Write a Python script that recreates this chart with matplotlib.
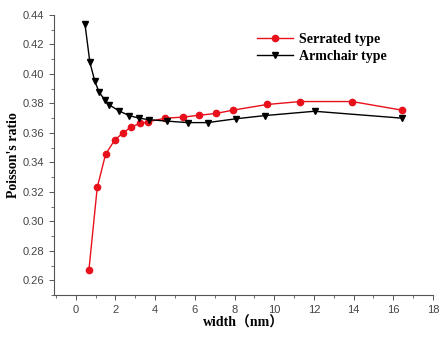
import matplotlib.pyplot as plt
from matplotlib.ticker import MultipleLocator

# serrated (red circles)
serrated_w = [0.66, 1.08, 1.50, 1.96, 2.38, 2.80, 3.24, 3.66, 4.50, 5.38, 6.22, 7.06, 7.90, 9.64, 11.32, 13.92, 16.46]
serrated_v = [0.267, 0.323, 0.3455, 0.3552, 0.360, 0.3642, 0.3664, 0.3676, 0.370, 0.3707, 0.372, 0.3732, 0.3754,
              0.3793, 0.3813, 0.3813, 0.3754]

# armchair (black triangles)
armchair_w = [0.46, 0.71, 0.96, 1.18, 1.45, 1.69, 2.17, 2.68, 3.19, 3.69, 4.62, 5.63, 6.64, 8.07, 9.55, 12.03, 16.46]
armchair_v = [0.434, 0.4078, 0.395, 0.3875, 0.3826, 0.379, 0.375, 0.3718, 0.370, 0.369, 0.368, 0.367, 0.367,
              0.3696, 0.3718, 0.3747, 0.370]

serif = ["Liberation Serif", "Noto Sans CJK SC"]

fig = plt.figure(figsize=(4.4, 3.38), dpi=100)
ax = fig.add_axes([0.1227, 0.127, 0.984 - 0.1227, 0.9556 - 0.127])

ax.plot(serrated_w, serrated_v, color="#e8101a", marker="o", markersize=4.5, linewidth=1.0, label="Serrated type")
ax.plot(armchair_w, armchair_v, color="black", marker="v", markersize=4.5, linewidth=1.0, label="Armchair type")

ax.set_xlim(-1.1, 18)
ax.set_ylim(0.25, 0.44)
ax.xaxis.set_major_locator(MultipleLocator(2))
ax.xaxis.set_minor_locator(MultipleLocator(1))
ax.yaxis.set_major_locator(MultipleLocator(0.02))
ax.yaxis.set_minor_locator(MultipleLocator(0.01))
ax.yaxis.set_major_formatter(plt.FormatStrFormatter("%.2f"))

for side in ["top", "right"]:
    ax.spines[side].set_visible(False)
for side in ["left", "bottom"]:
    ax.spines[side].set_color("#555555")
    ax.spines[side].set_linewidth(0.8)

ax.tick_params(which="major", direction="out", length=3.5, width=0.7, colors="#555555",
               labelsize=8, labelcolor="#444444")
ax.tick_params(which="minor", direction="out", length=2, width=0.6, colors="#555555")
for lbl in ax.get_xticklabels() + ax.get_yticklabels():
    lbl.set_family("Liberation Sans")

ax.set_xlabel("width（nm）", family=serif, fontweight="bold", fontsize=10, labelpad=1)
ax.set_ylabel("Poisson's ratio", family=serif, fontweight="bold", fontsize=10, labelpad=2)

ax.legend(loc="upper right", bbox_to_anchor=(0.91, 0.98), frameon=False, handlelength=2.6,
          handletextpad=0.4, labelspacing=0.3, prop={"family": "Liberation Serif", "weight": "bold", "size": 10})

fig.savefig("out.png", dpi=100)
